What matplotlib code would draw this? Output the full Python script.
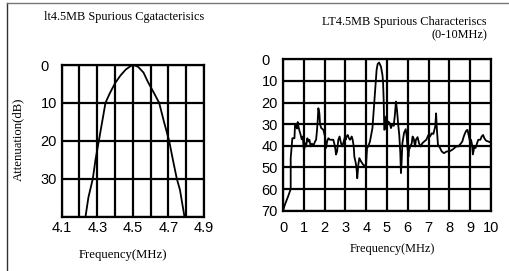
import matplotlib
matplotlib.use('Agg')
import matplotlib.pyplot as plt
from matplotlib.lines import Line2D

# ---------------- data ----------------
left_freq = [4.234, 4.25, 4.275, 4.29, 4.309, 4.32, 4.335, 4.346, 4.37, 4.40, 4.43, 4.46,
             4.49, 4.505, 4.53, 4.56, 4.585, 4.62, 4.648, 4.675, 4.704, 4.725, 4.747, 4.765, 4.79]
left_att = [40, 35, 30, 25, 20, 17, 13, 10, 7.5, 4.8, 2.8, 1.2,
            0.2, 0, 0.5, 2.0, 4.5, 7.5, 10, 15, 20, 25, 30, 33, 40]
left_xgrid = [4.1, 4.2, 4.3, 4.4, 4.5, 4.6, 4.7, 4.8, 4.9]
left_xlabels = ['4.1', '', '4.3', '', '4.5', '', '4.7', '', '4.9']
left_ygrid = [0, 10, 20, 30, 40]
left_ylabels = ['0', '10', '20', '30', '']

right_freq = [0.0, 0.1, 0.26, 0.37, 0.37, 0.42, 0.45, 0.55, 0.58, 0.63, 0.67, 0.71, 0.74,
              0.79, 0.85, 0.9, 0.95, 1.01, 1.06, 1.11, 1.17, 1.22, 1.27, 1.33, 1.39, 1.46,
              1.54, 1.59, 1.63, 1.67, 1.7, 1.75, 1.78, 1.84, 1.94, 2.02, 2.07, 2.12, 2.18,
              2.26, 2.34, 2.42, 2.5, 2.55, 2.6, 2.66, 2.72, 2.79, 2.85, 2.92, 2.98, 3.01,
              3.06, 3.11, 3.17, 3.22, 3.27, 3.3, 3.35, 3.4, 3.43, 3.5, 3.54, 3.57, 3.62,
              3.67, 3.75, 3.86, 3.99, 4.04, 4.1, 4.18, 4.3, 4.36, 4.42, 4.5, 4.55, 4.62,
              4.71, 4.78, 4.81, 4.84, 4.87, 4.9, 4.95, 5.0, 5.06, 5.13, 5.19, 5.26, 5.32,
              5.38, 5.43, 5.48, 5.54, 5.59, 5.64, 5.67, 5.7, 5.74, 5.82, 5.9, 5.95, 5.98,
              6.03, 6.06, 6.12, 6.19, 6.23, 6.28, 6.35, 6.39, 6.47, 6.54, 6.62, 6.7, 6.79,
              6.89, 6.99, 7.07, 7.15, 7.23, 7.28, 7.32, 7.36, 7.4, 7.45, 7.55, 7.63, 7.74,
              7.87, 8.0, 8.14, 8.24, 8.33, 8.43, 8.5, 8.56, 8.62, 8.69, 8.75, 8.81, 8.87,
              8.94, 8.99, 9.04, 9.09, 9.13, 9.2, 9.26, 9.33, 9.39, 9.49, 9.55, 9.62, 9.68,
              9.76, 9.87, 10.0]
right_att = [70, 67, 63, 60, 45.7, 40, 36.5, 36.5, 30, 30, 32, 29, 31,
             33, 35, 37, 35.7, 42.6, 38.8, 40.3, 36.5, 38, 37.2, 40.3, 39, 40,
             38, 37.2, 33.4, 28, 22.6, 25, 30, 31.8, 32.6, 35.7, 41, 38, 36.5,
             37.2, 37.2, 37.2, 40.3, 44, 42.6, 37.2, 35.7, 38.8, 40.3, 38, 35.7, 37.2,
             35.7, 35, 36.5, 37.2, 36.5, 35.7, 37.2, 40.3, 45, 48, 51, 55, 48.8,
             45.7, 47.2, 48.8, 49.5, 41, 40.3, 38, 31.8, 23.4, 15.7, 4.9, 2.2, 1.5,
             3.4, 7.2, 10.3, 18.8, 32.6, 32.3, 26.5, 31, 28.8, 29.5, 31.8, 29.8, 30.8,
             25.7, 19.5, 23.4, 30.3, 35, 43.4, 52.6, 48, 38.8, 34, 32.3, 35.7, 40.3,
             45, 41.8, 40.3, 38.8, 35.7, 36.5, 40.3, 37.2, 36, 38.8, 40.3, 38.8, 38,
             37.2, 35, 35.7, 34.2, 34.5, 32.6, 31, 25, 32.6, 39.5, 41, 42.6, 43.4,
             42.6, 42.6, 41.8, 41, 40.3, 40.3, 39.5, 38.8, 38, 35.7, 34.2, 33, 32.6,
             35.7, 38, 37.2, 39.5, 44, 40.3, 41, 38.8, 37.2, 37.2, 35.7, 35, 36.5,
             37.6, 38, 38.5]
right_xgrid = [0, 1, 2, 3, 4, 5, 6, 7, 8, 9, 10]
right_xlabels = ['0', '1', '2', '3', '4', '5', '6', '7', '8', '9', '10']
right_ygrid = [0, 10, 20, 30, 40, 50, 60, 70]
right_ylabels = ['0', '10', '20', '30', '40', '50', '60', '70']

left_title = 'lt4.5MB Spurious Cgatacterisics'
right_title = 'LT4.5MB Spurious Characteriscs'
right_subtitle = '(0-10MHz)'
xlabel = 'Frequency(MHz)'
ylabel = 'Attenuation(dB)'

# ---------------- figure ----------------
W, H = 510, 271
DPI = 100
fig = plt.figure(figsize=(W / DPI, H / DPI), dpi=DPI)
fig.patch.set_facecolor('white')

SERIF = ['Liberation Serif', 'DejaVu Serif']
SANS = ['Liberation Sans', 'DejaVu Sans']


def rect(l, t, r, b):
    return [l / W, (H - b) / H, (r - l) / W, (b - t) / H]


def px2pt(p):
    return p * 72.0 / DPI


def style_axes(ax, xgrid, xlabels, ygrid, ylabels, xpad, ypad, fs):
    ax.set_xticks(xgrid)
    ax.set_xticklabels(xlabels, fontfamily=SANS, fontsize=fs)
    ax.set_yticks(ygrid)
    ax.set_yticklabels(ylabels, fontfamily=SANS, fontsize=fs)
    for lbl in ax.get_yticklabels():
        lbl.set_horizontalalignment('left')
    ax.tick_params(axis='both', length=0, colors='black')
    ax.tick_params(axis='x', pad=px2pt(xpad))
    ax.tick_params(axis='y', pad=px2pt(ypad))
    ax.grid(True, color='black', linewidth=1.6)
    for s in ax.spines.values():
        s.set_linewidth(1.6)
        s.set_color('black')
    ax.set_axisbelow(True)


# left chart
axL = fig.add_axes(rect(61.7, 65, 204, 216.5))
axL.plot(left_freq, left_att, color='black', linewidth=1.3, zorder=3)
axL.set_xlim(4.1, 4.9)
axL.set_ylim(40, 0)
style_axes(axL, left_xgrid, left_xlabels, left_ygrid, left_ylabels, 5, 21, 10.5)

# right chart
axR = fig.add_axes(rect(283, 59.3, 491, 210.7))
axR.plot(right_freq, right_att, color='black', linewidth=1.3, zorder=3)
axR.set_xlim(0, 10)
axR.set_ylim(70, 0)
style_axes(axR, right_xgrid, right_xlabels, right_ygrid, right_ylabels, 10, 21.5, 10.5)

# texts
fig.text(124 / W, 1 - 17 / H, left_title, fontfamily=SERIF, fontsize=8.8,
         ha='center', va='center')
fig.text(487 / W, 1 - 22 / H, right_title, fontfamily=SERIF, fontsize=8.8,
         ha='right', va='center')
fig.text(487 / W, 1 - 35.5 / H, right_subtitle, fontfamily=SERIF, fontsize=8.8,
         ha='right', va='center')
fig.text(122.5 / W, 1 - 255 / H, xlabel, fontfamily=SERIF, fontsize=9.2,
         ha='center', va='center')
fig.text(392.5 / W, 1 - 249 / H, xlabel, fontfamily=SERIF, fontsize=8.8,
         ha='center', va='center')
fig.text(18 / W, 1 - 139 / H, ylabel, fontfamily=SERIF, fontsize=9.2,
         ha='center', va='center', rotation=90)

# page border lines (scanned frame)
fig.add_artist(Line2D([7.5 / W, 7.5 / W], [0, 1 - 3 / H], transform=fig.transFigure,
                      color='#333333', linewidth=1.0))
fig.add_artist(Line2D([7.5 / W, 1.0], [1 - 3 / H, 1 - 3 / H], transform=fig.transFigure,
                      color='#777777', linewidth=1.0))

fig.savefig('out.png', dpi=DPI)
